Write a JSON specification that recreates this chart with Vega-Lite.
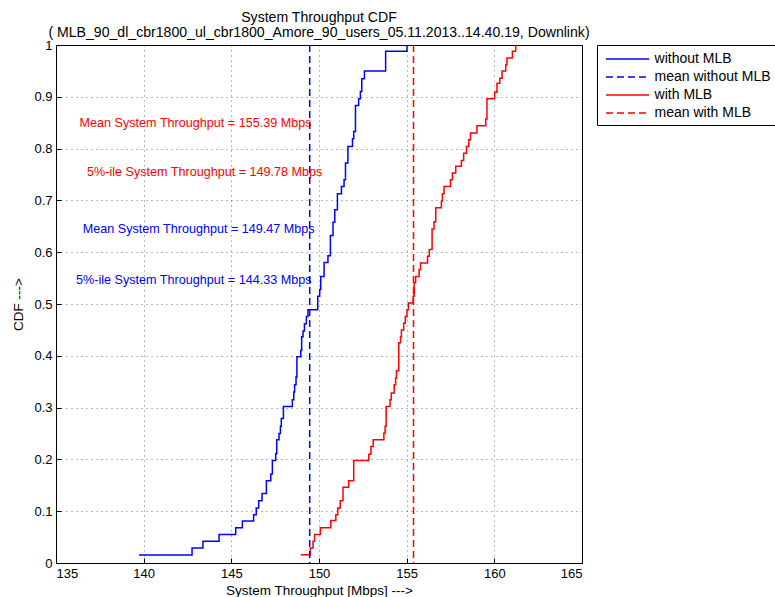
{
  "$schema": "https://vega.github.io/schema/vega-lite/v6.json",
  "width": 526,
  "height": 518,
  "autosize": {"type": "none"},
  "padding": {"left": 56, "top": 45, "right": 193, "bottom": 34},
  "background": "white",
  "title": {
    "text": ["System Throughput CDF", "( MLB_90_dl_cbr1800_ul_cbr1800_Amore_90_users_05.11.2013..14.40.19, Downlink)"],
    "anchor": "middle",
    "fontSize": 14.1,
    "fontWeight": "normal",
    "font": "Liberation Sans",
    "color": "#000",
    "lineHeight": 15,
    "offset": -1.5
  },
  "datasets": {
    "cdf": [
      {"series": "without MLB", "x": 139.73, "y": 0.0154},
      {"series": "without MLB", "x": 142.76, "y": 0.029},
      {"series": "without MLB", "x": 143.38, "y": 0.042},
      {"series": "without MLB", "x": 144.30, "y": 0.055},
      {"series": "without MLB", "x": 145.25, "y": 0.068},
      {"series": "without MLB", "x": 145.63, "y": 0.081},
      {"series": "without MLB", "x": 146.27, "y": 0.093},
      {"series": "without MLB", "x": 146.42, "y": 0.106},
      {"series": "without MLB", "x": 146.56, "y": 0.120},
      {"series": "without MLB", "x": 146.75, "y": 0.134},
      {"series": "without MLB", "x": 147.00, "y": 0.159},
      {"series": "without MLB", "x": 147.25, "y": 0.172},
      {"series": "without MLB", "x": 147.34, "y": 0.198},
      {"series": "without MLB", "x": 147.53, "y": 0.211},
      {"series": "without MLB", "x": 147.59, "y": 0.238},
      {"series": "without MLB", "x": 147.72, "y": 0.250},
      {"series": "without MLB", "x": 147.80, "y": 0.264},
      {"series": "without MLB", "x": 147.85, "y": 0.279},
      {"series": "without MLB", "x": 147.97, "y": 0.302},
      {"series": "without MLB", "x": 148.48, "y": 0.315},
      {"series": "without MLB", "x": 148.56, "y": 0.330},
      {"series": "without MLB", "x": 148.61, "y": 0.344},
      {"series": "without MLB", "x": 148.69, "y": 0.359},
      {"series": "without MLB", "x": 148.74, "y": 0.398},
      {"series": "without MLB", "x": 148.96, "y": 0.410},
      {"series": "without MLB", "x": 149.01, "y": 0.437},
      {"series": "without MLB", "x": 149.09, "y": 0.448},
      {"series": "without MLB", "x": 149.17, "y": 0.462},
      {"series": "without MLB", "x": 149.28, "y": 0.476},
      {"series": "without MLB", "x": 149.37, "y": 0.489},
      {"series": "without MLB", "x": 149.93, "y": 0.515},
      {"series": "without MLB", "x": 150.04, "y": 0.528},
      {"series": "without MLB", "x": 150.10, "y": 0.553},
      {"series": "without MLB", "x": 150.29, "y": 0.580},
      {"series": "without MLB", "x": 150.51, "y": 0.593},
      {"series": "without MLB", "x": 150.65, "y": 0.632},
      {"series": "without MLB", "x": 150.80, "y": 0.658},
      {"series": "without MLB", "x": 150.90, "y": 0.682},
      {"series": "without MLB", "x": 151.05, "y": 0.713},
      {"series": "without MLB", "x": 151.28, "y": 0.727},
      {"series": "without MLB", "x": 151.43, "y": 0.740},
      {"series": "without MLB", "x": 151.51, "y": 0.772},
      {"series": "without MLB", "x": 151.65, "y": 0.804},
      {"series": "without MLB", "x": 151.91, "y": 0.819},
      {"series": "without MLB", "x": 151.98, "y": 0.833},
      {"series": "without MLB", "x": 152.08, "y": 0.883},
      {"series": "without MLB", "x": 152.26, "y": 0.896},
      {"series": "without MLB", "x": 152.36, "y": 0.910},
      {"series": "without MLB", "x": 152.44, "y": 0.935},
      {"series": "without MLB", "x": 152.59, "y": 0.950},
      {"series": "without MLB", "x": 153.80, "y": 0.988},
      {"series": "without MLB", "x": 155.02, "y": 1.0},
      {"series": "with MLB", "x": 148.96, "y": 0.016},
      {"series": "with MLB", "x": 149.51, "y": 0.029},
      {"series": "with MLB", "x": 149.66, "y": 0.042},
      {"series": "with MLB", "x": 149.75, "y": 0.055},
      {"series": "with MLB", "x": 150.08, "y": 0.068},
      {"series": "with MLB", "x": 150.67, "y": 0.082},
      {"series": "with MLB", "x": 150.96, "y": 0.093},
      {"series": "with MLB", "x": 151.07, "y": 0.106},
      {"series": "with MLB", "x": 151.21, "y": 0.120},
      {"series": "with MLB", "x": 151.37, "y": 0.146},
      {"series": "with MLB", "x": 151.69, "y": 0.159},
      {"series": "with MLB", "x": 151.98, "y": 0.198},
      {"series": "with MLB", "x": 152.84, "y": 0.210},
      {"series": "with MLB", "x": 152.96, "y": 0.225},
      {"series": "with MLB", "x": 153.09, "y": 0.238},
      {"series": "with MLB", "x": 153.70, "y": 0.251},
      {"series": "with MLB", "x": 153.77, "y": 0.264},
      {"series": "with MLB", "x": 153.83, "y": 0.302},
      {"series": "with MLB", "x": 154.05, "y": 0.315},
      {"series": "with MLB", "x": 154.12, "y": 0.328},
      {"series": "with MLB", "x": 154.29, "y": 0.344},
      {"series": "with MLB", "x": 154.37, "y": 0.357},
      {"series": "with MLB", "x": 154.42, "y": 0.371},
      {"series": "with MLB", "x": 154.55, "y": 0.425},
      {"series": "with MLB", "x": 154.65, "y": 0.437},
      {"series": "with MLB", "x": 154.70, "y": 0.450},
      {"series": "with MLB", "x": 154.83, "y": 0.463},
      {"series": "with MLB", "x": 154.92, "y": 0.476},
      {"series": "with MLB", "x": 155.02, "y": 0.489},
      {"series": "with MLB", "x": 155.10, "y": 0.502},
      {"series": "with MLB", "x": 155.37, "y": 0.515},
      {"series": "with MLB", "x": 155.43, "y": 0.541},
      {"series": "with MLB", "x": 155.51, "y": 0.553},
      {"series": "with MLB", "x": 155.71, "y": 0.566},
      {"series": "with MLB", "x": 155.79, "y": 0.579},
      {"series": "with MLB", "x": 156.19, "y": 0.592},
      {"series": "with MLB", "x": 156.29, "y": 0.605},
      {"series": "with MLB", "x": 156.45, "y": 0.645},
      {"series": "with MLB", "x": 156.56, "y": 0.659},
      {"series": "with MLB", "x": 156.66, "y": 0.686},
      {"series": "with MLB", "x": 156.98, "y": 0.699},
      {"series": "with MLB", "x": 157.04, "y": 0.713},
      {"series": "with MLB", "x": 157.13, "y": 0.727},
      {"series": "with MLB", "x": 157.50, "y": 0.740},
      {"series": "with MLB", "x": 157.61, "y": 0.753},
      {"series": "with MLB", "x": 157.80, "y": 0.766},
      {"series": "with MLB", "x": 158.12, "y": 0.777},
      {"series": "with MLB", "x": 158.25, "y": 0.791},
      {"series": "with MLB", "x": 158.41, "y": 0.804},
      {"series": "with MLB", "x": 158.54, "y": 0.817},
      {"series": "with MLB", "x": 158.64, "y": 0.830},
      {"series": "with MLB", "x": 159.01, "y": 0.844},
      {"series": "with MLB", "x": 159.51, "y": 0.857},
      {"series": "with MLB", "x": 159.58, "y": 0.896},
      {"series": "with MLB", "x": 160.02, "y": 0.909},
      {"series": "with MLB", "x": 160.15, "y": 0.926},
      {"series": "with MLB", "x": 160.31, "y": 0.936},
      {"series": "with MLB", "x": 160.44, "y": 0.950},
      {"series": "with MLB", "x": 160.65, "y": 0.962},
      {"series": "with MLB", "x": 160.72, "y": 0.975},
      {"series": "with MLB", "x": 161.03, "y": 0.988},
      {"series": "with MLB", "x": 161.22, "y": 1.0}
    ],
    "means": [
      {"series": "mean without MLB", "x": 149.47},
      {"series": "mean with MLB", "x": 155.39}
    ],
    "notes": [
      {"group": "with", "x": 149.57, "y": 0.849, "label": "Mean System Throughput = 155.39 Mbps"},
      {"group": "with", "x": 150.19, "y": 0.754, "label": "5%-ile System Throughput = 149.78 Mbps"},
      {"group": "without", "x": 149.75, "y": 0.645, "label": "Mean System Throughput = 149.47 Mbps"},
      {"group": "without", "x": 149.57, "y": 0.547, "label": "5%-ile System Throughput = 144.33 Mbps"}
    ]
  },
  "encoding": {
    "x": {
      "field": "x",
      "type": "quantitative",
      "scale": {"domain": [135, 165], "nice": false, "zero": false},
      "axis": {
        "values": [135, 140, 145, 150, 155, 160, 165],
        "title": "System Throughput [Mbps] --->",
        "titlePadding": 3
      }
    }
  },
  "layer": [
    {
      "data": {"name": "cdf"},
      "mark": {"type": "line", "interpolate": "step-after", "strokeWidth": 1.5},
      "encoding": {
        "y": {
          "field": "y",
          "type": "quantitative",
          "scale": {"domain": [0, 1], "nice": false},
          "axis": {
            "values": [0, 0.1, 0.2, 0.3, 0.4, 0.5, 0.6, 0.7, 0.8, 0.9, 1],
            "format": "~g",
            "title": "CDF --->",
            "titlePadding": 8
          }
        },
        "color": {
          "field": "series",
          "type": "nominal",
          "scale": {
            "domain": ["without MLB", "mean without MLB", "with MLB", "mean with MLB"],
            "range": ["#0000ff", "#0000ff", "#ff0000", "#ff0000"]
          },
          "legend": {"title": null}
        },
        "strokeDash": {
          "field": "series",
          "type": "nominal",
          "scale": {
            "domain": ["without MLB", "mean without MLB", "with MLB", "mean with MLB"],
            "range": [[1, 0], [7, 4], [1, 0], [7, 4]]
          },
          "legend": {"title": null}
        }
      }
    },
    {
      "data": {"name": "means"},
      "mark": {"type": "rule", "strokeWidth": 1.5},
      "encoding": {
        "color": {"field": "series", "type": "nominal"},
        "strokeDash": {"field": "series", "type": "nominal"}
      }
    },
    {
      "data": {"name": "notes"},
      "transform": [{"filter": "datum.group === 'with'"}],
      "mark": {"type": "text", "align": "right", "baseline": "middle", "fontSize": 12.6, "font": "Liberation Sans", "color": "#ff0000"},
      "encoding": {
        "y": {"field": "y", "type": "quantitative"},
        "text": {"field": "label"}
      }
    },
    {
      "data": {"name": "notes"},
      "transform": [{"filter": "datum.group === 'without'"}],
      "mark": {"type": "text", "align": "right", "baseline": "middle", "fontSize": 12.6, "font": "Liberation Sans", "color": "#0000ff"},
      "encoding": {
        "y": {"field": "y", "type": "quantitative"},
        "text": {"field": "label"}
      }
    }
  ],
  "config": {
    "font": "Liberation Sans",
    "view": {"stroke": "#000", "strokeWidth": 1},
    "axis": {
      "grid": true,
      "gridColor": "#000",
      "gridOpacity": 0.55,
      "gridDash": [1, 4],
      "gridWidth": 1,
      "domainColor": "#000",
      "tickColor": "#000",
      "tickSize": -5,
      "labelColor": "#000",
      "labelFontSize": 13,
      "labelFont": "Liberation Sans",
      "labelPadding": 9,
      "titleColor": "#000",
      "titleFontSize": 13.5,
      "titleFontWeight": "normal",
      "titleFont": "Liberation Sans"
    },
    "legend": {
      "orient": "none",
      "legendX": 541,
      "legendY": 0,
      "strokeColor": "#000",
      "fillColor": "#fff",
      "padding": 5,
      "symbolType": "M-2.7,0H2.7",
      "symbolSize": 256,
      "symbolOffset": 16.6,
      "symbolStrokeWidth": 1.5,
      "labelFontSize": 14,
      "labelFont": "Liberation Sans",
      "labelColor": "#000",
      "labelOffset": 18,
      "rowPadding": 2,
      "labelLimit": 300
    }
  }
}
